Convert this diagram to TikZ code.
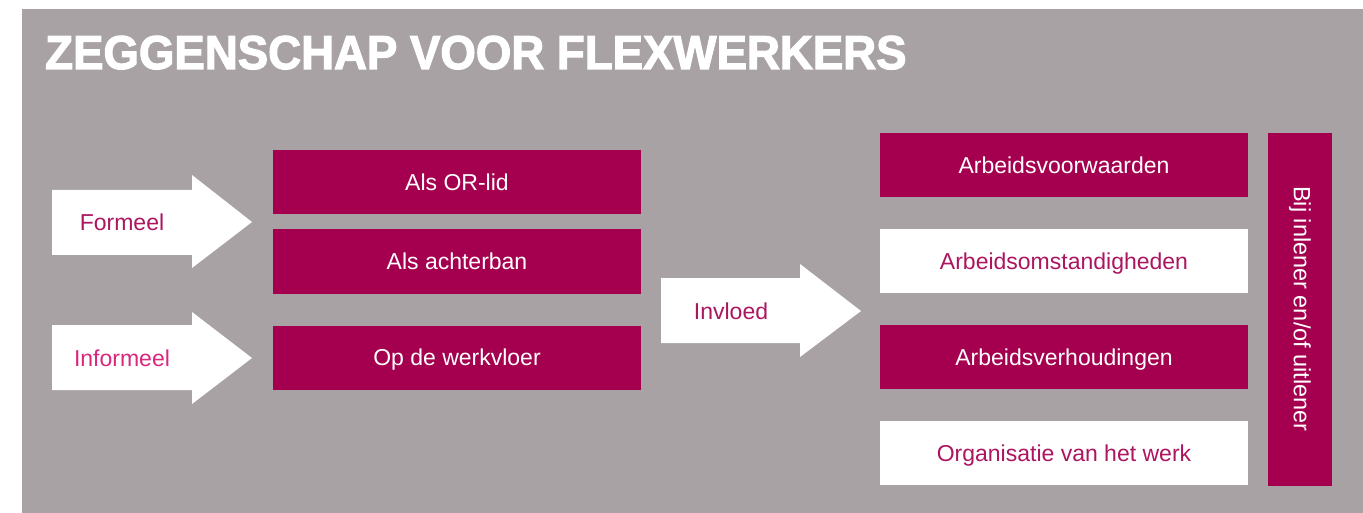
\documentclass[tikz,border=0pt]{standalone}
\usepackage{fontspec}
\setmainfont{Liberation Sans}
\newfontfamily\titlefont[FakeBold=2.5]{Liberation Sans Bold}
\usetikzlibrary{positioning}
\definecolor{bggray}{HTML}{A8A2A5}
\definecolor{mag}{HTML}{A5004F}
\definecolor{magtext}{HTML}{AC1560}
\definecolor{pinktext}{HTML}{D8277C}
\tikzset{
  boxfont/.style={font=\fontsize{23}{26}\selectfont, text height=16.5pt, text depth=0pt},
  magbox/.style={fill=mag, text=white, minimum width=368pt, minimum height=64pt, inner sep=0pt, boxfont},
  whitebox/.style={fill=white, text=magtext, minimum width=368pt, minimum height=64pt, inner sep=0pt, boxfont},
  arrowtext/.style={text=magtext, inner sep=0pt, boxfont},
  bigarrow/.style={fill=white}
}
\begin{document}
\begin{tikzpicture}[x=1pt,y=-1pt]
\useasboundingbox (0,0) rectangle (1363,513);
\fill[bggray] (22,9) rectangle (1363,513);
\node[anchor=base west, inner sep=0pt, text=white] (title) at (45,69)
  {\scalebox{0.96}[1]{\titlefont\fontsize{47.5}{50}\selectfont ZEGGENSCHAP VOOR FLEXWERKERS}};
% arrows
\fill[bigarrow] (52,190) -- (192,190) -- (192,175) -- (252,222) -- (192,268) -- (192,255) -- (52,255) -- cycle;
\node[arrowtext] (formeel) at (122,222) {Formeel};
\fill[bigarrow] (52,325) -- (192,325) -- (192,312) -- (252,358) -- (192,404) -- (192,390) -- (52,390) -- cycle;
\node[arrowtext, text=pinktext] (informeel) at (122,358) {Informeel};
\fill[bigarrow] (661,278) -- (800,278) -- (800,264) -- (861,311) -- (800,357) -- (800,343) -- (661,343) -- cycle;
\node[arrowtext] (invloed) at (731,311) {Invloed};
% left boxes
\node[magbox] (orlid) at (457,182.5) {Als OR-lid};
\node[magbox] (achterban) at (457,261.5) {Als achterban};
\node[magbox] (werkvloer) at (457,357.5) {Op de werkvloer};
% right boxes
\node[magbox] (voorwaarden) at (1064,165) {Arbeidsvoorwaarden};
\node[whitebox] (omstandigheden) at (1064,261) {Arbeidsomstandigheden};
\node[magbox] (verhoudingen) at (1064,357) {Arbeidsverhoudingen};
\node[whitebox] (organisatie) at (1064,453) {Organisatie van het werk};
% vertical bar
\node[fill=mag, minimum width=64pt, minimum height=353pt, inner sep=0pt] (bar) at (1300,309.5) {};
\node[text=white, rotate=-90, inner sep=0pt, font=\fontsize{23.5}{26}\selectfont] (bartext) at (1300,309) {Bij inlener en/of uitlener};
\end{tikzpicture}
\end{document}
